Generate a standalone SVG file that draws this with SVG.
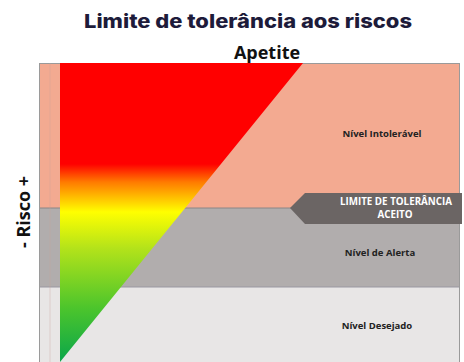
<svg xmlns="http://www.w3.org/2000/svg" width="464" height="362" viewBox="0 0 464 362">
<defs>
<linearGradient id="grad" x1="0" y1="62" x2="0" y2="362" gradientUnits="userSpaceOnUse">
<stop offset="0" stop-color="#ff0000"/>
<stop offset="0.34" stop-color="#ff0000"/>
<stop offset="0.40" stop-color="#ff7a00"/>
<stop offset="0.50" stop-color="#ffff00"/>
<stop offset="0.62" stop-color="#b4e31a"/>
<stop offset="0.82" stop-color="#4cc52c"/>
<stop offset="1" stop-color="#0aa64a"/>
</linearGradient>
<style>
.lbl{font-family:"Open Sans","Liberation Sans",sans-serif;font-weight:bold;font-size:9.5px;fill:#222;text-anchor:middle}
.wlbl{font-family:"Open Sans","Liberation Sans",sans-serif;font-weight:bold;font-size:9.8px;fill:#fff;text-anchor:middle}
</style>
</defs>
<rect width="464" height="362" fill="#ffffff"/>
<text x="248" y="28" font-family="Inter, 'Noto Sans', sans-serif" font-weight="800" font-size="19" fill="#1d1b3a" text-anchor="middle" textLength="328" lengthAdjust="spacingAndGlyphs">Limite de tolerância aos riscos</text>
<text x="267" y="59" font-family="'Open Sans','Liberation Sans',sans-serif" font-weight="bold" font-size="18" fill="#111" text-anchor="middle">Apetite</text>
<text transform="translate(30,212) rotate(-90)" font-family="'Open Sans','Liberation Sans',sans-serif" font-weight="bold" font-size="18" fill="#111" text-anchor="middle">- Risco +</text>
<g id="bands">
<rect x="39" y="63" width="421" height="145" fill="#f3aa91"/>
<rect x="39" y="208" width="421" height="79" fill="#b1adad"/>
<rect x="39" y="287" width="421" height="75" fill="#e8e6e6"/>
<line x1="39" y1="208" x2="460" y2="208" stroke="#8a8686" stroke-width="1"/>
<line x1="39" y1="287" x2="460" y2="287" stroke="#9a97a2" stroke-width="1.2"/>
<rect x="39.5" y="63.5" width="420" height="299" fill="none" stroke="#9a9a9a" stroke-width="1"/>
<line x1="50" y1="63" x2="50" y2="362" stroke="#c9a59a" stroke-width="0.6" opacity="0.6"/>
</g>
<g id="triangle">
<polygon points="60,63 303,63 60,362" fill="url(#grad)"/>
</g>
<g id="limite">
<polygon points="290,208 305,193 462,193 462,224 305,224" fill="#6b6564"/>
<text class="wlbl" x="396" y="205">LIMITE DE TOLERÂNCIA</text>
<text class="wlbl" x="395" y="218">ACEITO</text>
</g>
<g id="intoleravel"><text class="lbl" x="382" y="137">Nível Intolerável</text></g>
<g id="alerta"><text class="lbl" x="380" y="256">Nível de Alerta</text></g>
<g id="desejado"><text class="lbl" x="377" y="329">Nível Desejado</text></g>
<g id="connectors"/>
</svg>
